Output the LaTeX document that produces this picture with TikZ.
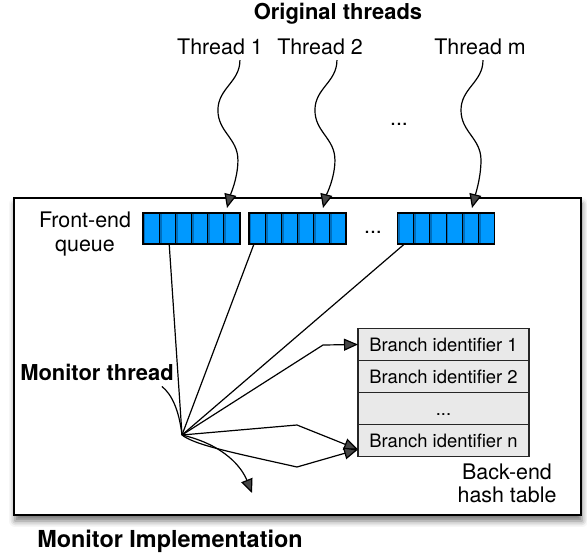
\documentclass[tikz,border=0pt]{standalone}
\usepackage{fontspec}
\setmainfont{TeX Gyre Heros}
\definecolor{queueblue}{RGB}{0,153,255}
\definecolor{queuedark}{RGB}{0,110,190}
\definecolor{tablegray}{RGB}{233,233,233}
\usetikzlibrary{arrows.meta, positioning, calc, shadows.blur}

\begin{document}
\begin{tikzpicture}[x=1bp, y=-1bp,
  lbl/.style={font=\fontsize{21.5}{24.5}\selectfont, align=center, inner sep=0pt},
  bold/.style={font=\fontsize{22}{26}\selectfont\bfseries, inner sep=0pt},
  queue/.style={draw=black, line width=1.2bp, fill=queueblue, minimum width=97bp, minimum height=31bp, inner sep=0pt, outer sep=0pt},
  row/.style={draw=black!85, line width=1.2bp, fill=tablegray, minimum width=171bp, minimum height=32bp, inner sep=0pt, outer sep=0pt, text height=13bp, text depth=0bp, font=\fontsize{18.5}{22}\selectfont},
  wave/.style={line width=1.2bp, -{Triangle[length=14bp, width=12bp]}},
  link/.style={line width=1.2bp},
  arr/.style={line width=1.2bp, -{Triangle[length=14bp, width=12bp]}}]

  \useasboundingbox (0,0) rectangle (587,558);

  % monitor box
  \draw[line width=2bp, fill=white, blur shadow={shadow xshift=1pt, shadow yshift=-6pt, shadow blur radius=6pt, shadow opacity=55}] (14,198) rectangle (581,515);

  % original threads
  \node[bold] (orig) at (338,14) {Original threads};
  \node[lbl, inner ysep=5bp] (t1) at (220,47) {Thread 1};
  \node[lbl, inner ysep=5bp] (t2) at (320,47) {Thread 2};
  \node[lbl, inner ysep=5bp] (tm) at (480,47) {Thread m};
  \node[lbl] (tdots) at (399,124) {...};

  % front-end queues
  \node[lbl] (fe) at (85,234) {Front-end\\queue};
  \node[queue] (q1) at (191.5,228.5) {};
  \node[queue] (q2) at (297.5,228.5) {};
  \node[queue] (q3) at (446,228.5) {};
  \node[lbl] (qdots) at (373,232) {...};
  \foreach \q in {q1,q2,q3} {
    \foreach \i in {0,...,5}
      \fill[queuedark] ($(\q.north west)!\i/6!(\q.north east)$) ++(0.6,0.6) rectangle ++(1.8,29.8);
    \foreach \i in {1,...,5}
      \draw[line width=1bp] ($(\q.north west)!\i/6!(\q.north east)$) -- ($(\q.south west)!\i/6!(\q.south east)$);
    \draw[line width=1.2bp] (\q.north west) rectangle (\q.south east);
  }

  % threads feeding the queues
  \coordinate (a1) at (227,208);
  \coordinate (a2) at (323,208);
  \coordinate (am) at (472,208);
  \foreach \t/\dx/\a in {t1/20/a1, t2/17/a2, tm/3/am}
    \draw[wave] ([xshift=\dx pt]\t.south) .. controls +(0,22) and +(0,-22) .. ++(-22,50)
      .. controls +(0,22) and +(0,-22) .. ++(20,50) .. controls +(0,18) and +(3,-12) .. (\a);

  % back-end hash table
  \node[row] (b1) at (443.5,344.5) {Branch identifier 1};
  \node[row, below=0pt of b1] (b2) {Branch identifier 2};
  \node[row, below=0pt of b2] (b3) {...};
  \node[row, below=0pt of b3] (bn) {Branch identifier n};
  \node[lbl, font=\fontsize{21.5}{23}\selectfont] (be) at (507,483) {Back-end\\hash table};

  % monitor thread
  \coordinate (mt) at (182,435);
  \node[bold] (mlbl) at (97,372) {Monitor thread};
  \draw[link] ([xshift=-12pt, yshift=-6pt]mlbl.south east) .. controls +(10,8) and +(-3,-25) .. (mt);
  \draw[link] (mt) -- ($(q1.south west)!0.27!(q1.south east)$);
  \draw[link] (mt) -- ([xshift=5pt]q2.south west);
  \draw[link] (mt) -- ([xshift=7pt]q3.south west);

  \coordinate (k1) at (323,345);
  \coordinate (k2) at (297,425);
  \coordinate (k3) at (297,467);
  \coordinate (dn) at (252,493);
  \draw[arr] (mt) -- (k1) -- (b1.west);
  \draw[arr] (mt) -- (k2) -- ([yshift=-9pt]bn.west);
  \draw[arr] (mt) .. controls (195,445) and (230,452) .. (k3) -- ([yshift=-9pt]bn.west);
  \draw[arr] (mt) .. controls (225,445) and (242,468) .. (dn);

  \node[font=\fontsize{23.5}{28}\selectfont\bfseries, inner sep=0pt] (impl) at (170,541) {Monitor Implementation};
\end{tikzpicture}
\end{document}
